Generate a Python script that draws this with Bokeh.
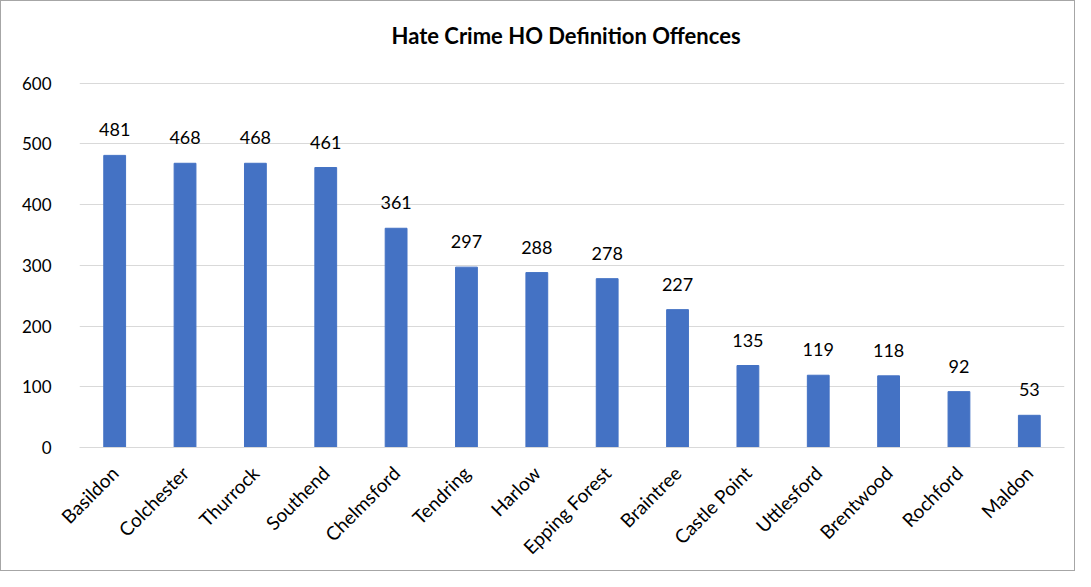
from bokeh.plotting import figure
from bokeh.models import ColumnDataSource, LabelSet, FixedTicker, Range1d
from bokeh.core.properties import value
from bokeh.embed import file_html
from bokeh.resources import INLINE
import math

areas = ["Basildon", "Colchester", "Thurrock", "Southend", "Chelmsford", "Tendring",
         "Harlow", "Epping Forest", "Braintree", "Castle Point", "Uttlesford",
         "Brentwood", "Rochford", "Maldon"]
offences = [481, 468, 468, 461, 361, 297, 288, 278, 227, 135, 119, 118, 92, 53]
y_ticks = [0, 100, 200, 300, 400, 500, 600]
title_text = "Hate Crime HO Definition Offences"

FONT = "Lato"
src = ColumnDataSource(dict(x=areas, y=offences, lab=[str(v) for v in offences]))

p = figure(x_range=areas, y_range=Range1d(0, 601), width=1075, height=571,
           output_backend="svg", toolbar_location=None,
           title=title_text + "\n",
           min_border_left=78, min_border_right=12, min_border_top=81, min_border_bottom=125)
p.styles = {"border": "1.5px solid #a6a6a6", "box-sizing": "border-box"}
p.title.align = "left"
p.title.offset = 312
p.title.vertical_align = "bottom"
p.title.text_font = FONT
p.title.text_font_size = "22px"
p.title.text_font_style = "bold"
p.title.text_color = "#000000"
p.title.standoff = 14

p.vbar(x="x", top="y", width=0.31, source=src, color="#4472c4")
p.add_layout(LabelSet(x="x", y="y", text="lab", source=src, text_align="center",
                      y_offset=19, text_font=value(FONT), text_font_size=value("18px"),
                      text_color="#000000"))

p.outline_line_color = None
p.background_fill_color = "white"
p.border_fill_color = "white"
p.xgrid.grid_line_color = None
p.ygrid.grid_line_color = "#d9d9d9"
p.ygrid.grid_line_width = 1

p.yaxis.ticker = FixedTicker(ticks=y_ticks)
p.yaxis.axis_line_color = None
p.yaxis.major_tick_line_color = None
p.yaxis.minor_tick_line_color = None
p.yaxis.major_label_standoff = 22
p.yaxis.major_label_text_font = FONT
p.yaxis.major_label_text_font_size = "17px"
p.yaxis.major_label_text_color = "#000000"

p.xaxis.axis_line_color = "#d9d9d9"
p.xaxis.major_tick_line_color = None
p.xaxis.minor_tick_line_color = None
p.xaxis.major_label_orientation = math.pi / 4
p.xaxis.major_label_standoff = 16
p.xaxis.major_label_text_font = FONT
p.xaxis.major_label_text_font_size = "19px"
p.xaxis.major_label_text_color = "#000000"
p.x_range.range_padding = 0

open("out.html", "w").write(file_html(p, INLINE))
